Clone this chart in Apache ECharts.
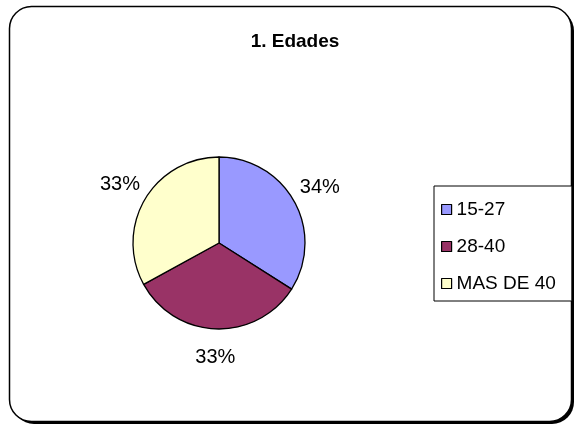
<!DOCTYPE html>
<html>
<head>
<meta charset="utf-8">
<script src="https://cdn.jsdelivr.net/npm/echarts@6/dist/echarts.min.js"></script>
<style>html,body{margin:0;padding:0;background:#fff;}#c{width:576px;height:428px;}</style>
</head>
<body>
<div id="c"></div>
<script>
const titleText = '1. Edades';
const categories = ['15-27', '28-40', 'MAS DE 40'];
const values = [34, 33, 33];
const colors = ['#9999FF', '#993366', '#FFFFCC'];

const CX = 219, CY = 243, R = 86, LABEL_R = 115;
const total = values.reduce((a, b) => a + b, 0);
const midAngles = [];
let acc = 0;
values.forEach(v => { midAngles.push((acc + v / 2) / total * 2 * Math.PI); acc += v; });

const chart = echarts.init(document.getElementById('c'), null, {renderer: 'canvas'});
const font = '"Liberation Sans", Arial, sans-serif';
chart.setOption({
  animation: false,
  backgroundColor: '#fff',
  graphic: [{
    type: 'rect', z: -11, silent: true,
    shape: {x: 12, y: 9, width: 562, height: 415, r: 22},
    style: {fill: '#000'}
  }, {
    type: 'rect', z: -10, silent: true,
    shape: {x: 9.5, y: 6.5, width: 562, height: 415, r: 22},
    style: {fill: '#fff', stroke: '#000', lineWidth: 1.5}
  }],
  title: {
    text: titleText, left: 290, top: 27, textAlign: 'center',
    textStyle: {fontFamily: font, fontSize: 19, fontWeight: 'bold', color: '#000'}
  },
  legend: {
    orient: 'vertical', left: 434, top: 186,
    data: categories,
    icon: 'rect', itemWidth: 10, itemHeight: 10, itemGap: 18,
    padding: [14, 16, 8, 7],
    borderColor: '#000', borderWidth: 1, backgroundColor: '#fff',
    itemStyle: {borderColor: '#000', borderWidth: 1.2},
    textStyle: {fontFamily: font, fontSize: 19, color: '#000'}
  },
  series: [{
    type: 'pie', center: [CX, CY], radius: R, startAngle: 90, clockwise: true,
    data: categories.map((c, i) => ({name: c, value: values[i], itemStyle: {color: colors[i]}})),
    itemStyle: {borderColor: '#000', borderWidth: 1.3},
    label: {show: true, position: 'outside', formatter: '{c}%', fontFamily: font, fontSize: 20, color: '#000'},
    labelLine: {show: false},
    labelLayout: function (p) {
      const a = midAngles[p.dataIndex];
      return {x: CX + LABEL_R * Math.sin(a), y: CY - LABEL_R * Math.cos(a), align: 'center', verticalAlign: 'middle'};
    },
    emphasis: {disabled: true}
  }]
});
</script>
</body>
</html>
